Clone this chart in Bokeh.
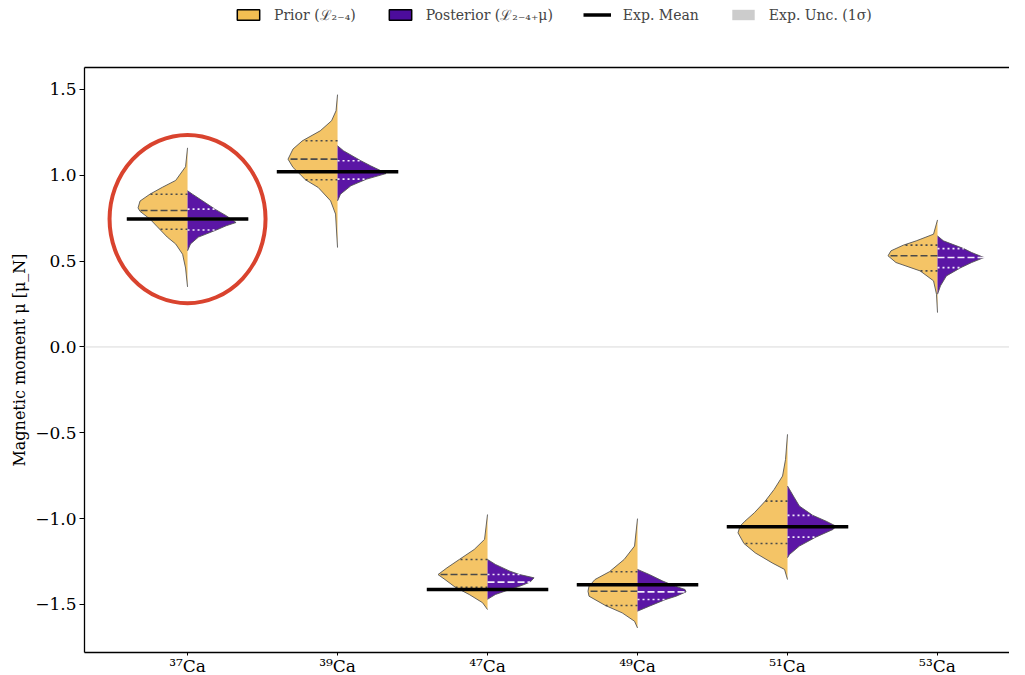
import numpy as np
from bokeh.plotting import figure
from bokeh.layouts import column
from bokeh.models import (ColumnDataSource, FixedTicker, Span, Legend, LegendItem,
                          Range1d, LinearAxis)
from bokeh.embed import file_html
from bokeh.resources import INLINE

# ---------------- data ----------------
isotopes = ["³⁷Ca", "³⁹Ca", "⁴⁷Ca", "⁴⁹Ca", "⁵¹Ca", "⁵³Ca"]

# Prior density profile: y values and relative half-width (max = 1)
prior_y = [
    [1.16, 1.05, 0.97, 0.93, 0.89, 0.85, 0.81, 0.79, 0.745, 0.70, 0.64, 0.60, 0.54, 0.46, 0.35],
    [1.47, 1.376, 1.318, 1.259, 1.201, 1.153, 1.094, 1.046, 1.007, 0.974, 0.929, 0.851, 0.774, 0.579],
    [-0.976, -1.121, -1.18, -1.238, -1.287, -1.326, -1.355, -1.40, -1.442, -1.49, -1.53],
    [-1.0, -1.16, -1.238, -1.31, -1.355, -1.394, -1.423, -1.452, -1.506, -1.549, -1.598, -1.637],
    [-0.509, -0.655, -0.752, -0.83, -0.898, -0.966, -1.015, -1.044, -1.083, -1.145, -1.2, -1.258, -1.296, -1.355],
    [0.74, 0.657, 0.618, 0.593, 0.56, 0.531, 0.492, 0.443, 0.385, 0.307, 0.20],
]
prior_d = [
    [0, 0.04, 0.24, 0.51, 0.76, 0.96, 1.0, 0.96, 0.76, 0.61, 0.41, 0.24, 0.10, 0.04, 0],
    [0, 0.03, 0.12, 0.35, 0.71, 0.90, 1.0, 0.90, 0.76, 0.65, 0.39, 0.14, 0.04, 0],
    [0, 0.06, 0.27, 0.57, 0.82, 1.0, 0.86, 0.65, 0.37, 0.10, 0],
    [0, 0.06, 0.27, 0.57, 0.86, 0.98, 1.0, 0.98, 0.65, 0.31, 0.06, 0],
    [0, 0.04, 0.10, 0.27, 0.45, 0.67, 0.86, 0.96, 1.0, 0.88, 0.65, 0.31, 0.06, 0],
    [0, 0.08, 0.43, 0.69, 0.94, 1.0, 0.84, 0.35, 0.08, 0.02, 0],
]
# Posterior density profile
post_y = [
    [0.91, 0.89, 0.85, 0.80, 0.765, 0.725, 0.706, 0.68, 0.64, 0.60, 0.56],
    [1.172, 1.143, 1.085, 1.055, 1.026, 1.01, 0.978, 0.939, 0.89, 0.851],
    [-1.238, -1.267, -1.306, -1.326, -1.345, -1.37, -1.394, -1.413, -1.442, -1.47],
    [-1.296, -1.326, -1.364, -1.388, -1.413, -1.427, -1.452, -1.471, -1.51, -1.539],
    [-0.81, -0.879, -0.927, -0.981, -1.015, -1.044, -1.063, -1.108, -1.16, -1.209, -1.228],
    [0.647, 0.618, 0.573, 0.55, 0.521, 0.492, 0.462, 0.414, 0.356, 0.307],
]
post_d = [
    [0, 0.10, 0.31, 0.57, 0.78, 0.98, 0.78, 0.57, 0.22, 0.06, 0],
    [0, 0.12, 0.47, 0.67, 0.88, 0.98, 0.59, 0.27, 0.06, 0],
    [0, 0.16, 0.45, 0.65, 0.94, 0.86, 0.65, 0.45, 0.16, 0],
    [0, 0.24, 0.51, 0.71, 0.96, 0.98, 0.78, 0.57, 0.24, 0],
    [0, 0.14, 0.24, 0.51, 0.78, 0.98, 0.92, 0.57, 0.24, 0.04, 0],
    [0, 0.12, 0.53, 0.69, 0.94, 0.69, 0.47, 0.18, 0.06, 0],
]
# Quartiles (Q1, median, Q3)
prior_q = [
    [0.686, 0.795, 0.89],
    [0.974, 1.094, 1.201],
    [-1.40, -1.326, -1.238],
    [-1.506, -1.423, -1.31],
    [-1.145, -1.044, -0.898],
    [0.443, 0.531, 0.593],
]
post_q = [
    [0.681, 0.745, 0.803],
    [0.978, 1.022, 1.085],
    [-1.413, -1.37, -1.326],
    [-1.471, -1.427, -1.388],
    [-1.108, -1.045, -0.981],
    [0.462, 0.521, 0.573],
]
# Experimental values (no measurement for 53Ca)
exp_mean = [0.745, 1.021, -1.413, -1.385, -1.048, None]
exp_unc = [0.007, 0.001, 0.002, 0.002, 0.002, None]

y_ticks = [-1.5, -1.0, -0.5, 0.0, 0.5, 1.0, 1.5]
y_tick_labels = ["−1.5", "−1.0", "−0.5", "0.0", "0.5", "1.0", "1.5"]
legend_labels = ["Prior (ℒ₂₋₄)", "Posterior (ℒ₂₋₄₊μ)", "Exp. Mean", "Exp. Unc. (1σ)"]
highlight_idx = 0

# ---------------- style ----------------
PRIOR = "#F4C466"
POST = "#5B16A5"
EDGE = "#555555"
FONT = "DejaVu Serif"
HALF_W = 0.33       # max half-width of a violin (x units)
MEAN_HALF = 0.405   # half-length of the experimental mean bar

p = figure(frame_width=925, frame_height=585,
           x_range=Range1d(-0.687, 5.48), y_range=Range1d(-1.78, 1.628),
           output_backend="svg", toolbar_location=None,
           min_border_left=84, min_border_right=0, min_border_top=7, min_border_bottom=23)
p.xgrid.visible = False
p.ygrid.visible = False
p.outline_line_color = None
p.background_fill_color = "white"

p.add_layout(Span(location=0, dimension="width", line_color="#d9d9d9", line_width=1))

# ---------------- violins ----------------
prior_xs, prior_ys, post_xs, post_ys = [], [], [], []
for i in range(len(isotopes)):
    y = np.array(prior_y[i]); d = np.array(prior_d[i])
    prior_xs.append(list(i - d * HALF_W)); prior_ys.append(list(y))
    y = np.array(post_y[i]); d = np.array(post_d[i])
    post_xs.append(list(i + d * HALF_W)); post_ys.append(list(y))

p.patches(xs=prior_xs, ys=prior_ys, fill_color=PRIOR, line_color=None)
p.patches(xs=post_xs, ys=post_ys, fill_color=POST, line_color=None)
p.multi_line(xs=prior_xs, ys=prior_ys, line_color=EDGE, line_width=0.9)
p.multi_line(xs=post_xs, ys=post_ys, line_color=EDGE, line_width=0.9)

# quartile lines
def quart_segments(ylists, dlists, qlists, sign):
    med = dict(x0=[], x1=[], y=[])
    qrt = dict(x0=[], x1=[], y=[])
    for i in range(len(isotopes)):
        y = np.array(ylists[i])[::-1]; d = np.array(dlists[i])[::-1]
        for k, q in enumerate(qlists[i]):
            half = np.interp(q, y, d) * HALF_W
            tgt = med if k == 1 else qrt
            tgt["x0"].append(i); tgt["x1"].append(i + sign * half); tgt["y"].append(q)
    return med, qrt

pm, pq = quart_segments(prior_y, prior_d, prior_q, -1)
qm, qq = quart_segments(post_y, post_d, post_q, +1)
p.segment(x0="x0", x1="x1", y0="y", y1="y", source=ColumnDataSource(pq),
          line_color="#4a4a4a", line_width=1.6, line_dash="2 3")
p.segment(x0="x0", x1="x1", y0="y", y1="y", source=ColumnDataSource(pm),
          line_color="#4a4a4a", line_width=1.6, line_dash="7 3")
p.segment(x0="x0", x1="x1", y0="y", y1="y", source=ColumnDataSource(qq),
          line_color="#f2ecfa", line_width=1.6, line_dash="2 3")
p.segment(x0="x0", x1="x1", y0="y", y1="y", source=ColumnDataSource(qm),
          line_color="#f2ecfa", line_width=1.6, line_dash="7 3")

# ---------------- experimental values ----------------
ex = dict(x0=[], x1=[], y=[], top=[], bottom=[])
for i, m in enumerate(exp_mean):
    if m is None:
        continue
    ex["x0"].append(i - MEAN_HALF); ex["x1"].append(i + MEAN_HALF); ex["y"].append(m)
    ex["top"].append(m + exp_unc[i]); ex["bottom"].append(m - exp_unc[i])
exsrc = ColumnDataSource(ex)
p.quad(left="x0", right="x1", top="top", bottom="bottom", source=exsrc,
       fill_color="#cccccc", line_color=None)
p.segment(x0="x0", x1="x1", y0="y", y1="y", source=exsrc,
          line_color="black", line_width=3.5)

# highlight circle
p.ellipse(x=[highlight_idx], y=[exp_mean[highlight_idx]], width=1.04, height=0.98,
          fill_color=None, line_color="#D9432E", line_width=4)

# ---------------- axes ----------------
p.xaxis.ticker = FixedTicker(ticks=list(range(len(isotopes))))
p.xaxis.major_label_overrides = {i: s for i, s in enumerate(isotopes)}
p.yaxis.ticker = FixedTicker(ticks=y_ticks)
p.yaxis.major_label_overrides = {t: s for t, s in zip(y_ticks, y_tick_labels)}
p.yaxis.axis_label = "Magnetic moment μ [μ_N]"
for ax in (p.xaxis, p.yaxis):
    ax.axis_line_color = "black"
    ax.axis_line_width = 1.3
    ax.major_tick_in = 0
    ax.major_tick_out = 5
    ax.minor_tick_in = 0
    ax.minor_tick_out = 0
    ax.major_tick_line_color = "black"
    ax.major_label_text_font = FONT
    ax.major_label_text_font_size = "17px"
    ax.major_label_text_color = "black"
    ax.axis_label_text_font = FONT
    ax.axis_label_text_font_size = "16px"
    ax.axis_label_text_font_style = "normal"
    ax.axis_label_text_color = "black"
p.xaxis.major_tick_out = 3
p.xaxis.major_label_standoff = 0
p.xaxis.major_label_text_font_size = "17px"
p.yaxis.major_label_standoff = 3
p.yaxis.axis_label_standoff = 3

top_axis = LinearAxis(ticker=FixedTicker(ticks=[]), major_tick_out=0, major_tick_in=0,
                      minor_tick_out=0, minor_tick_in=0, major_label_text_font_size="0px",
                      major_label_standoff=0, axis_line_color="black", axis_line_width=1.3)
p.add_layout(top_axis, "above")

# ---------------- legend strip above the axes ----------------
lg = figure(width=1009, height=60, x_range=Range1d(0, 1), y_range=Range1d(0, 1),
            output_backend="svg", toolbar_location=None,
            x_axis_location=None, y_axis_location=None,
            min_border_left=0, min_border_right=0, min_border_top=0, min_border_bottom=0)
lg.xgrid.visible = False
lg.ygrid.visible = False
lg.outline_line_color = None
r1 = lg.quad(left="x0", right="x1", top="top", bottom="bottom", source=exsrc,
             fill_color="#F2BE52", line_color="black", line_width=1.5, visible=False)
r2 = lg.quad(left="x0", right="x1", top="top", bottom="bottom", source=exsrc,
             fill_color="#4C0C9C", line_color="black", line_width=1.5, visible=False)
r3 = lg.segment(x0="x0", x1="x1", y0="y", y1="y", source=exsrc,
                line_color="black", line_width=3.5, visible=False)
r4 = lg.quad(left="x0", right="x1", top="top", bottom="bottom", source=exsrc,
             fill_color="#cccccc", line_color=None, visible=False)
legend = Legend(items=[LegendItem(label=l, renderers=[r]) for l, r in
                       zip(legend_labels, [r1, r2, r3, r4])],
                orientation="horizontal", location=(150, 36), border_line_color=None,
                background_fill_alpha=0, label_text_font=FONT, label_text_font_size="14px",
                glyph_width=28, glyph_height=13, spacing=30, label_standoff=12,
                padding=2, margin=0)
lg.add_layout(legend)

open("out.html", "w").write(file_html(column(lg, p, spacing=0), INLINE))
